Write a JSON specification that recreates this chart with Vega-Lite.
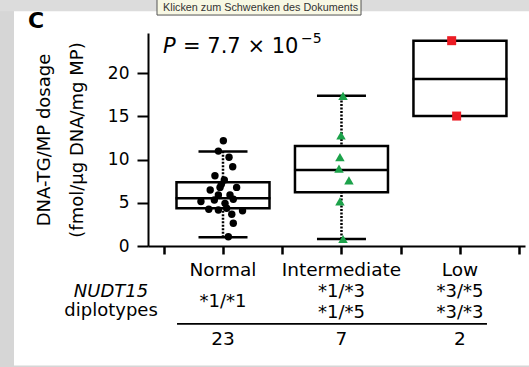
{
  "$schema": "https://vega.github.io/schema/vega-lite/v6.json",
  "width": 377,
  "height": 213,
  "autosize": {"type": "none"},
  "padding": {"left": 148, "top": 33, "right": 4, "bottom": 121},
  "background": "white",
  "config": {
    "view": {"stroke": null},
    "font": "DejaVu Sans",
    "scale": {"continuousPadding": 0},
    "axisX": {"values": [1, 2, 3], "labels": false, "grid": false, "domainColor": "black", "domainWidth": 2, "tickColor": "black", "tickWidth": 2.5, "tickSize": 8, "titleColor": "transparent"},
    "axisY": {"values": [0, 5, 10, 15, 20], "titleFont": "DejaVu Sans", "titleFontSize": 18, "titleFontWeight": "normal", "titleColor": "black", "titleLineHeight": 33, "titlePadding": 21, "labelFont": "DejaVu Sans", "labelFontSize": 17, "labelColor": "black", "labelPadding": 8, "labelFlush": false, "tickSize": 11, "tickWidth": 2, "tickColor": "black", "domainWidth": 2, "domainColor": "black", "grid": false}
  },
  "datasets": {
    "groups": [
      {"phenotype": "Normal", "col": 1, "q1": 4.37, "median": 5.52, "q3": 7.38, "lo": 1.0, "hi": 10.94, "mid": "*1/*1", "d1": null, "d2": null, "n": 23},
      {"phenotype": "Intermediate", "col": 2, "q1": 6.22, "median": 8.8, "q3": 11.58, "lo": 0.81, "hi": 17.4, "mid": null, "d1": "*1/*3", "d2": "*1/*5", "n": 7},
      {"phenotype": "Low", "col": 3, "q1": 15.05, "median": 19.34, "q3": 23.78, "lo": null, "hi": null, "mid": null, "d1": "*3/*5", "d2": "*3/*3", "n": 2}
    ],
    "points": [
      {"group": "Normal", "x": 1.003, "value": 12.19},
      {"group": "Normal", "x": 0.961, "value": 10.99},
      {"group": "Normal", "x": 1.051, "value": 10.27},
      {"group": "Normal", "x": 1.082, "value": 9.18},
      {"group": "Normal", "x": 0.932, "value": 8.14},
      {"group": "Normal", "x": 1.011, "value": 7.64},
      {"group": "Normal", "x": 1.115, "value": 6.79},
      {"group": "Normal", "x": 0.892, "value": 6.49},
      {"group": "Normal", "x": 0.975, "value": 6.79},
      {"group": "Normal", "x": 0.961, "value": 5.91},
      {"group": "Normal", "x": 1.059, "value": 5.91},
      {"group": "Normal", "x": 0.814, "value": 5.15},
      {"group": "Normal", "x": 0.927, "value": 5.33},
      {"group": "Normal", "x": 1.087, "value": 5.41},
      {"group": "Normal", "x": 1.017, "value": 4.94},
      {"group": "Normal", "x": 0.88, "value": 4.25},
      {"group": "Normal", "x": 0.961, "value": 4.17},
      {"group": "Normal", "x": 1.031, "value": 4.37},
      {"group": "Normal", "x": 1.165, "value": 4.09},
      {"group": "Normal", "x": 1.074, "value": 3.67},
      {"group": "Normal", "x": 1.087, "value": 2.63},
      {"group": "Normal", "x": 1.045, "value": 1.08},
      {"group": "Normal", "x": 0.986, "value": 7.14},
      {"group": "Intermediate", "x": 2.013, "value": 17.4},
      {"group": "Intermediate", "x": 1.996, "value": 12.82},
      {"group": "Intermediate", "x": 1.987, "value": 10.3},
      {"group": "Intermediate", "x": 1.979, "value": 8.96},
      {"group": "Intermediate", "x": 2.063, "value": 7.6},
      {"group": "Intermediate", "x": 1.987, "value": 5.17},
      {"group": "Intermediate", "x": 2.013, "value": 0.81},
      {"group": "Low", "x": 2.93, "value": 23.78},
      {"group": "Low", "x": 2.972, "value": 15.05}
    ]
  },
  "layer": [
    {
      "data": {"name": "groups"},
      "mark": {"type": "rule", "color": "black", "strokeWidth": 2.5, "strokeDash": [2, 1.5], "clip": false},
      "encoding": {
        "x": {"field": "col", "type": "quantitative", "scale": {"domain": [0.367, 3.549], "nice": false, "zero": false, "padding": 0}, "axis": {"title": null}},
        "y": {"field": "lo", "type": "quantitative", "scale": {"domain": [0, 24.67], "nice": false, "zero": false, "padding": 0}, "axis": {"title": ["DNA-TG/MP dosage", "(fmol/µg DNA/mg MP)"]}},
        "y2": {"field": "hi"}
      }
    },
    {
      "data": {"values": [{}]},
      "mark": {"type": "rect", "fill": "#d6d6d6", "clip": false},
      "encoding": {
        "x": {"datum": -1.0, "type": "quantitative", "scale": {"domain": [0.367, 3.549], "nice": false, "zero": false}},
        "x2": {"datum": -0.764},
        "y": {"datum": 30, "type": "quantitative", "scale": {"domain": [0, 24.67], "nice": false, "zero": false}},
        "y2": {"datum": -16}
      }
    },
    {
      "data": {"values": [{}]},
      "mark": {"type": "rect", "fill": "#dcdcdc", "clip": false},
      "encoding": {
        "x": {"datum": -1.0, "type": "quantitative", "scale": {"domain": [0.367, 3.549], "nice": false, "zero": false}},
        "x2": {"datum": 3.7},
        "y": {"datum": 30, "type": "quantitative", "scale": {"domain": [0, 24.67], "nice": false, "zero": false}},
        "y2": {"datum": 27.2}
      }
    },
    {
      "data": {"values": [{}]},
      "mark": {"type": "rect", "fill": "#d6d6d6", "clip": false},
      "encoding": {
        "x": {"datum": -1.0, "type": "quantitative", "scale": {"domain": [0.367, 3.549], "nice": false, "zero": false}},
        "x2": {"datum": 3.7},
        "y": {"datum": -13.85, "type": "quantitative", "scale": {"domain": [0, 24.67], "nice": false, "zero": false}},
        "y2": {"datum": -16}
      }
    },
    {
      "data": {"values": [{}]},
      "mark": {"type": "rect", "fill": "#f8f8e4", "stroke": "#555555", "strokeWidth": 1, "clip": false},
      "encoding": {
        "x": {"datum": 0.443, "type": "quantitative", "scale": {"domain": [0.367, 3.549], "nice": false, "zero": false}},
        "x2": {"datum": 2.165},
        "y": {"datum": 29, "type": "quantitative", "scale": {"domain": [0, 24.67], "nice": false, "zero": false}},
        "y2": {"datum": 26.75}
      }
    },
    {
      "data": {"values": [{}]},
      "mark": {"type": "text", "font": "Liberation Sans", "fontSize": 10.8, "color": "#333333", "align": "left", "baseline": "middle", "clip": false},
      "encoding": {
        "x": {"datum": 0.494, "type": "quantitative", "scale": {"domain": [0.367, 3.549], "nice": false, "zero": false}},
        "y": {"datum": 27.62, "type": "quantitative", "scale": {"domain": [0, 24.67], "nice": false, "zero": false}},
        "text": {"value": "Klicken zum Schwenken des Dokuments"}
      }
    },
    {
      "data": {"values": [{}]},
      "mark": {"type": "text", "fontSize": 22, "fontWeight": "bold", "color": "black", "align": "left", "baseline": "alphabetic", "clip": false},
      "encoding": {
        "x": {"datum": -0.646, "type": "quantitative", "scale": {"domain": [0.367, 3.549], "nice": false, "zero": false}},
        "y": {"datum": 25.25, "type": "quantitative", "scale": {"domain": [0, 24.67], "nice": false, "zero": false}},
        "text": {"value": "C"}
      }
    },
    {
      "data": {"name": "groups"},
      "mark": {"type": "bar", "orient": "vertical", "size": 93, "fill": "white", "stroke": "black", "strokeWidth": 2.5, "opacity": 1, "clip": false},
      "encoding": {
        "x": {"field": "col", "type": "quantitative", "scale": {"domain": [0.367, 3.549], "nice": false, "zero": false}},
        "y": {"field": "q1", "type": "quantitative", "scale": {"domain": [0, 24.67], "nice": false, "zero": false}},
        "y2": {"field": "q3"}
      }
    },
    {
      "data": {"name": "groups"},
      "mark": {"type": "tick", "orient": "horizontal", "size": 95, "thickness": 2.5, "color": "black", "opacity": 1, "clip": false},
      "encoding": {
        "x": {"field": "col", "type": "quantitative", "scale": {"domain": [0.367, 3.549], "nice": false, "zero": false}},
        "y": {"field": "median", "type": "quantitative", "scale": {"domain": [0, 24.67], "nice": false, "zero": false}}
      }
    },
    {
      "data": {"name": "groups"},
      "mark": {"type": "tick", "orient": "horizontal", "size": 49, "thickness": 2.5, "color": "black", "opacity": 1, "clip": false},
      "encoding": {
        "x": {"field": "col", "type": "quantitative", "scale": {"domain": [0.367, 3.549], "nice": false, "zero": false}},
        "y": {"field": "hi", "type": "quantitative", "scale": {"domain": [0, 24.67], "nice": false, "zero": false}}
      }
    },
    {
      "data": {"name": "groups"},
      "mark": {"type": "tick", "orient": "horizontal", "size": 49, "thickness": 2.5, "color": "black", "opacity": 1, "clip": false},
      "encoding": {
        "x": {"field": "col", "type": "quantitative", "scale": {"domain": [0.367, 3.549], "nice": false, "zero": false}},
        "y": {"field": "lo", "type": "quantitative", "scale": {"domain": [0, 24.67], "nice": false, "zero": false}}
      }
    },
    {
      "data": {"name": "points"},
      "transform": [{"filter": {"field": "group", "equal": "Normal"}}],
      "mark": {"type": "point", "shape": "circle", "filled": true, "size": 55, "color": "black", "opacity": 1, "clip": false},
      "encoding": {
        "x": {"field": "x", "type": "quantitative", "scale": {"domain": [0.367, 3.549], "nice": false, "zero": false}},
        "y": {"field": "value", "type": "quantitative", "scale": {"domain": [0, 24.67], "nice": false, "zero": false}}
      }
    },
    {
      "data": {"name": "points"},
      "transform": [{"filter": {"field": "group", "equal": "Intermediate"}}],
      "mark": {"type": "point", "shape": "triangle-up", "filled": true, "size": 90, "color": "#1ca24a", "opacity": 1, "clip": false},
      "encoding": {
        "x": {"field": "x", "type": "quantitative", "scale": {"domain": [0.367, 3.549], "nice": false, "zero": false}},
        "y": {"field": "value", "type": "quantitative", "scale": {"domain": [0, 24.67], "nice": false, "zero": false}}
      }
    },
    {
      "data": {"name": "points"},
      "transform": [{"filter": {"field": "group", "equal": "Low"}}],
      "mark": {"type": "point", "shape": "square", "filled": true, "size": 81, "color": "#ec1c24", "opacity": 1, "clip": false},
      "encoding": {
        "x": {"field": "x", "type": "quantitative", "scale": {"domain": [0.367, 3.549], "nice": false, "zero": false}},
        "y": {"field": "value", "type": "quantitative", "scale": {"domain": [0, 24.67], "nice": false, "zero": false}}
      }
    },
    {
      "data": {"values": [{}]},
      "mark": {"type": "text", "fontSize": 21, "fontStyle": "italic", "color": "black", "align": "left", "baseline": "alphabetic", "clip": false},
      "encoding": {
        "x": {"datum": 0.494, "type": "quantitative", "scale": {"domain": [0.367, 3.549], "nice": false, "zero": false}},
        "y": {"datum": 22.35, "type": "quantitative", "scale": {"domain": [0, 24.67], "nice": false, "zero": false}},
        "text": {"value": "P"}
      }
    },
    {
      "data": {"values": [{}]},
      "mark": {"type": "text", "fontSize": 21, "color": "black", "align": "left", "baseline": "alphabetic", "dx": 20, "clip": false},
      "encoding": {
        "x": {"datum": 0.494, "type": "quantitative", "scale": {"domain": [0.367, 3.549], "nice": false, "zero": false}},
        "y": {"datum": 22.35, "type": "quantitative", "scale": {"domain": [0, 24.67], "nice": false, "zero": false}},
        "text": {"value": "= 7.7 × 10"}
      }
    },
    {
      "data": {"values": [{}]},
      "mark": {"type": "text", "fontSize": 14, "color": "black", "align": "left", "baseline": "alphabetic", "dx": 138, "dy": -10, "clip": false},
      "encoding": {
        "x": {"datum": 0.494, "type": "quantitative", "scale": {"domain": [0.367, 3.549], "nice": false, "zero": false}},
        "y": {"datum": 22.35, "type": "quantitative", "scale": {"domain": [0, 24.67], "nice": false, "zero": false}},
        "text": {"value": "−5"}
      }
    },
    {
      "data": {"name": "groups"},
      "mark": {"type": "text", "fontSize": 18.5, "color": "black", "align": "center", "baseline": "alphabetic", "clip": false},
      "encoding": {
        "x": {"field": "col", "type": "quantitative", "scale": {"domain": [0.367, 3.549], "nice": false, "zero": false}},
        "y": {"datum": -3.47, "type": "quantitative", "scale": {"domain": [0, 24.67], "nice": false, "zero": false}},
        "text": {"field": "phenotype"}
      }
    },
    {
      "data": {"name": "groups"},
      "transform": [{"filter": "datum.d1 != null"}],
      "mark": {"type": "text", "fontSize": 18, "color": "black", "align": "center", "baseline": "alphabetic", "clip": false},
      "encoding": {
        "x": {"field": "col", "type": "quantitative", "scale": {"domain": [0.367, 3.549], "nice": false, "zero": false}},
        "y": {"datum": -5.91, "type": "quantitative", "scale": {"domain": [0, 24.67], "nice": false, "zero": false}},
        "text": {"field": "d1"}
      }
    },
    {
      "data": {"name": "groups"},
      "transform": [{"filter": "datum.d2 != null"}],
      "mark": {"type": "text", "fontSize": 18, "color": "black", "align": "center", "baseline": "alphabetic", "clip": false},
      "encoding": {
        "x": {"field": "col", "type": "quantitative", "scale": {"domain": [0.367, 3.549], "nice": false, "zero": false}},
        "y": {"datum": -8.3, "type": "quantitative", "scale": {"domain": [0, 24.67], "nice": false, "zero": false}},
        "text": {"field": "d2"}
      }
    },
    {
      "data": {"name": "groups"},
      "transform": [{"filter": "datum.mid != null"}],
      "mark": {"type": "text", "fontSize": 18, "color": "black", "align": "center", "baseline": "alphabetic", "clip": false},
      "encoding": {
        "x": {"field": "col", "type": "quantitative", "scale": {"domain": [0.367, 3.549], "nice": false, "zero": false}},
        "y": {"datum": -7.06, "type": "quantitative", "scale": {"domain": [0, 24.67], "nice": false, "zero": false}},
        "text": {"field": "mid"}
      }
    },
    {
      "data": {"name": "groups"},
      "mark": {"type": "text", "fontSize": 18.5, "color": "black", "align": "center", "baseline": "alphabetic", "clip": false},
      "encoding": {
        "x": {"field": "col", "type": "quantitative", "scale": {"domain": [0.367, 3.549], "nice": false, "zero": false}},
        "y": {"datum": -11.47, "type": "quantitative", "scale": {"domain": [0, 24.67], "nice": false, "zero": false}},
        "text": {"field": "n", "type": "nominal"}
      }
    },
    {
      "data": {"values": [{}]},
      "mark": {"type": "text", "fontSize": 18, "fontStyle": "italic", "color": "black", "align": "center", "baseline": "alphabetic", "clip": false},
      "encoding": {
        "x": {"datum": 0.055, "type": "quantitative", "scale": {"domain": [0.367, 3.549], "nice": false, "zero": false}},
        "y": {"datum": -5.91, "type": "quantitative", "scale": {"domain": [0, 24.67], "nice": false, "zero": false}},
        "text": {"value": "NUDT15"}
      }
    },
    {
      "data": {"values": [{}]},
      "mark": {"type": "text", "fontSize": 18, "color": "black", "align": "center", "baseline": "alphabetic", "clip": false},
      "encoding": {
        "x": {"datum": 0.055, "type": "quantitative", "scale": {"domain": [0.367, 3.549], "nice": false, "zero": false}},
        "y": {"datum": -8.11, "type": "quantitative", "scale": {"domain": [0, 24.67], "nice": false, "zero": false}},
        "text": {"value": "diplotypes"}
      }
    },
    {
      "data": {"values": [{}]},
      "mark": {"type": "rule", "color": "black", "strokeWidth": 1.8, "clip": false},
      "encoding": {
        "x": {"datum": 0.612, "type": "quantitative", "scale": {"domain": [0.367, 3.549], "nice": false, "zero": false}},
        "x2": {"datum": 3.228},
        "y": {"datum": -9.03, "type": "quantitative", "scale": {"domain": [0, 24.67], "nice": false, "zero": false}}
      }
    }
  ]
}
